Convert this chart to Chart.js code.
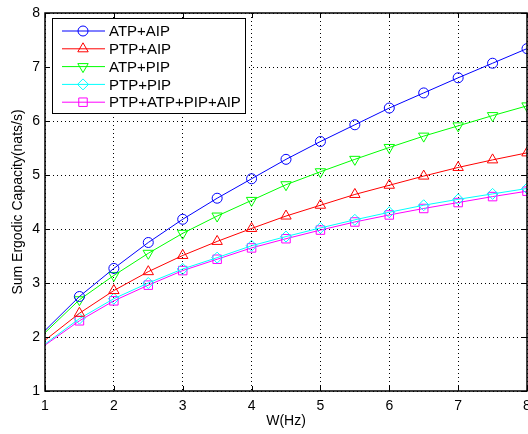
<!DOCTYPE html>
<html>
<head>
<meta charset="utf-8">
<script src="https://cdn.jsdelivr.net/npm/chart.js@4/dist/chart.umd.min.js"></script>
<style>
  html, body { margin: 0; padding: 0; background: #fff; }
</style>
</head>
<body>
<canvas id="chart" width="528" height="434"></canvas>
<script>
// bandwidth W (Hz) and the sum ergodic capacity for each scheme
const W = [1, 1.5, 2, 2.5, 3, 3.5, 4, 4.5, 5, 5.5, 6, 6.5, 7, 7.5, 8]
const xTicks = [1, 2, 3, 4, 5, 6, 7, 8]
const yTicks = [1, 2, 3, 4, 5, 6, 7, 8]
const atpAip = [2.12, 2.75, 3.27, 3.75, 4.18, 4.57, 4.93, 5.29, 5.62, 5.93, 6.24, 6.52, 6.80, 7.07, 7.34]
const ptpAip = [1.94, 2.44, 2.86, 3.21, 3.51, 3.77, 4.01, 4.24, 4.44, 4.64, 4.81, 4.98, 5.14, 5.28, 5.41]
const atpPip = [2.08, 2.69, 3.14, 3.55, 3.92, 4.24, 4.53, 4.82, 5.06, 5.29, 5.51, 5.72, 5.91, 6.10, 6.28]
const ptpPip = [1.87, 2.34, 2.71, 3.00, 3.26, 3.47, 3.69, 3.86, 4.02, 4.17, 4.31, 4.44, 4.55, 4.65, 4.75]
const allIp  = [1.85, 2.30, 2.67, 2.96, 3.23, 3.44, 3.65, 3.82, 3.98, 4.13, 4.26, 4.38, 4.49, 4.60, 4.70]

const FONT = 'Liberation Sans, Arial, Helvetica, sans-serif'

function mkSet(label, ys, color, style, r, rot) {
    return {
        label: label,
        data: W.map(function (w, i) { return { x: w, y: ys[i] } }),
        borderColor: color,
        borderWidth: 1,
        backgroundColor: 'rgba(0,0,0,0)',
        pointBackgroundColor: 'rgba(0,0,0,0)',
        pointBorderColor: color,
        pointBorderWidth: 1,
        pointStyle: style,
        pointRotation: rot || 0,
        pointRadiusVal: r,
        // no marker on the first sample, like the original figure
        pointRadius: function (ctx) { return ctx.dataIndex === 0 ? 0 : r },
        tension: 0
    }
}

const datasets = [
    mkSet('ATP+AIP', atpAip, '#0000ff', 'circle', 5),
    mkSet('PTP+AIP', ptpAip, '#ff0000', 'triangle', 6),
    mkSet('ATP+PIP', atpPip, '#00ff00', 'triangle', 6, 180),
    mkSet('PTP+PIP', ptpPip, '#00ffff', 'rectRot', 5.5),
    mkSet('PTP+ATP+PIP+AIP', allIp, '#ff00ff', 'rect', 6)
]

// matlab style box, inward ticks and legend
const matlabFrame = {
    id: 'matlabFrame',
    afterDatasetsDraw: function (chart) {
        let ctx = chart.ctx
        let a = chart.chartArea
        let xs = chart.scales.x, ys = chart.scales.y
        ctx.save()
        ctx.strokeStyle = '#000'
        ctx.lineWidth = 1
        ctx.beginPath()
        xTicks.forEach(function (t) {
            let px = Math.round(xs.getPixelForValue(t)) + 0.5
            ctx.moveTo(px, a.bottom); ctx.lineTo(px, a.bottom - 5)
            ctx.moveTo(px, a.top); ctx.lineTo(px, a.top + 5)
        })
        yTicks.forEach(function (t) {
            let py = Math.round(ys.getPixelForValue(t)) + 0.5
            ctx.moveTo(a.left, py); ctx.lineTo(a.left + 5, py)
            ctx.moveTo(a.right, py); ctx.lineTo(a.right - 5, py)
        })
        ctx.stroke()
        ctx.lineWidth = 1.5
        ctx.strokeRect(a.left, a.top, a.right - a.left, a.bottom - a.top)

        // legend box
        let lx = 52, ly = 18, lw = 193, lh = 95
        ctx.fillStyle = '#fff'
        ctx.fillRect(lx, ly, lw, lh)
        ctx.lineWidth = 1
        ctx.strokeRect(lx + 0.5, ly + 0.5, lw, lh)
        ctx.font = '15px ' + FONT
        ctx.textBaseline = 'middle'
        ctx.textAlign = 'left'
        chart.data.datasets.forEach(function (ds, i) {
            let y = 31 + i * 17.8
            ctx.strokeStyle = ds.borderColor
            ctx.lineWidth = 1
            ctx.beginPath()
            ctx.moveTo(62, y); ctx.lineTo(105, y)
            ctx.stroke()
            if (Chart.helpers && Chart.helpers.drawPoint) {
                ctx.fillStyle = 'rgba(0,0,0,0)'
                Chart.helpers.drawPoint(ctx, {
                    pointStyle: ds.pointStyle, radius: ds.pointRadiusVal, rotation: ds.pointRotation, borderWidth: 1
                }, 83, y)
            }
            ctx.fillStyle = '#000'
            ctx.fillText(ds.label, 109, y + 1)
        })
        ctx.restore()
    }
}

new Chart(document.getElementById('chart'), {
    type: 'line',
    data: { datasets: datasets },
    options: {
        responsive: false,
        animation: false,
        layout: { autoPadding: false, padding: { top: 13, right: 1, left: 0, bottom: 0 } },
        plugins: { legend: { display: false }, tooltip: { enabled: false } },
        scales: {
            x: {
                type: 'linear', min: 1, max: 8,
                afterBuildTicks: function (s) { s.ticks = xTicks.map(function (v) { return { value: v } }) },
                afterFit: function (s) { s.height = 43; s.paddingLeft = 0; s.paddingRight = 0 },
                ticks: { color: '#000', font: { family: FONT, size: 14 }, padding: 7, maxRotation: 0 },
                grid: { color: '#000', lineWidth: 1, drawTicks: false },
                border: { display: false, dash: [1, 3] },
                title: { display: true, text: 'W(Hz)', color: '#000', font: { family: FONT, size: 14 }, padding: { top: 0, bottom: 4 } }
            },
            y: {
                type: 'linear', min: 1, max: 8,
                afterBuildTicks: function (s) { s.ticks = yTicks.map(function (v) { return { value: v } }) },
                afterFit: function (s) { s.width = 45; s.paddingTop = 0; s.paddingBottom = 0 },
                ticks: { color: '#000', font: { family: FONT, size: 14 }, padding: 5 },
                grid: { color: '#000', lineWidth: 1, drawTicks: false },
                border: { display: false, dash: [1, 3] },
                title: { display: true, text: 'Sum Ergodic Capacity(nats/s)', color: '#000', font: { family: FONT, size: 14 }, padding: { top: 10, bottom: 0 } }
            }
        }
    },
    plugins: [matlabFrame]
})
</script>
</body>
</html>
